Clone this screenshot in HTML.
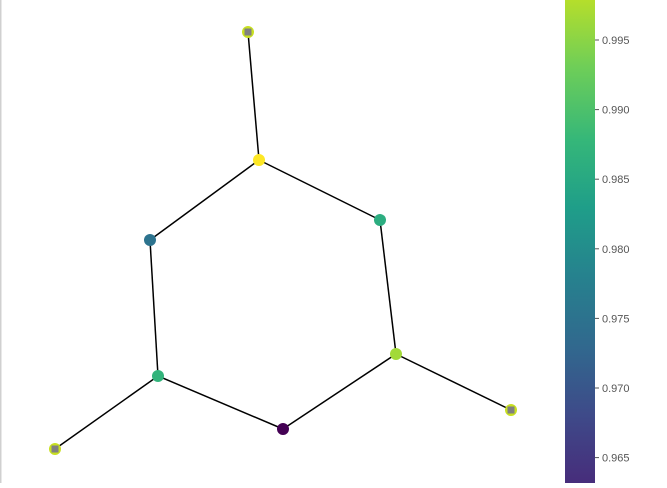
<!DOCTYPE html>
<html><head><meta charset="utf-8"><style>
body{margin:0;background:#fff;width:667px;height:483px;overflow:hidden;font-family:"Liberation Sans","DejaVu Sans",sans-serif}
</style></head><body>
<svg id="c" width="667" height="483" xmlns="http://www.w3.org/2000/svg">
<defs><linearGradient id="vg" x1="0" y1="1" x2="0" y2="0">
<stop offset="0" stop-color="#472d7b"/><stop offset="0.14" stop-color="#3e4a89"/><stop offset="0.28" stop-color="#31688e"/><stop offset="0.43" stop-color="#26828e"/><stop offset="0.57" stop-color="#1f9e89"/><stop offset="0.71" stop-color="#35b779"/><stop offset="0.86" stop-color="#6ece58"/><stop offset="1" stop-color="#b5de2b"/>
</linearGradient></defs>
<rect x="0" y="0" width="1.5" height="483" fill="#d0d0d0"/>
<g id="edges"></g><g id="nodes"></g>
<rect x="565" y="0" width="30" height="483" fill="url(#vg)"/>
<g id="cbticks"></g>
</svg>
<script>
const nodeX=[259,380,150,158,283,396,248,55,511];
const nodeY=[160,220,240,376,429,354,32,449,410];
const nodeVal=[1.0,0.62,0.38,0.65,0.0,0.86,null,null,null];
const edgesFrom=[0,1,5,4,3,2,0,3,5];
const edgesTo=[1,5,4,3,2,0,6,7,8];
const tickVals=[0.995,0.990,0.985,0.980,0.975,0.970,0.965];
const tickLabels=["0.995","0.990","0.985","0.980","0.975","0.970","0.965"];
const NS="http://www.w3.org/2000/svg";
const vir=[[68,1,84],[72,40,120],[62,74,137],[49,104,142],[38,130,142],[31,158,137],[53,183,121],[109,205,89],[180,222,44],[253,231,37]];
function viridis(t){t=Math.max(0,Math.min(1,t));const p=t*(vir.length-1),i=Math.min(Math.floor(p),vir.length-2),f=p-i;
const c=vir[i].map((v,k)=>Math.round(v+(vir[i+1][k]-v)*f));return `rgb(${c})`;}
function cbY(v){return 40+(0.995-v)/0.005*69.6;}
const eg=document.getElementById('edges'),ng=document.getElementById('nodes'),tg=document.getElementById('cbticks');
edgesFrom.forEach((a,i)=>{const b=edgesTo[i];const l=document.createElementNS(NS,'line');
l.setAttribute('x1',nodeX[a]);l.setAttribute('y1',nodeY[a]);l.setAttribute('x2',nodeX[b]);l.setAttribute('y2',nodeY[b]);
l.setAttribute('stroke','#000');l.setAttribute('stroke-width','1.5');


eg.appendChild(l);});
nodeX.forEach((x,i)=>{const y=nodeY[i];
if(nodeVal[i]===null){const c=document.createElementNS(NS,'circle');c.setAttribute('cx',x);c.setAttribute('cy',y);c.setAttribute('r',6);c.setAttribute('fill','#c8e020');


ng.appendChild(c);
const s=document.createElementNS(NS,'rect');s.setAttribute('x',x-3.5);s.setAttribute('y',y-3.5);s.setAttribute('width',7);s.setAttribute('height',7);s.setAttribute('fill','#808080');


ng.appendChild(s);}
else{const c=document.createElementNS(NS,'circle');c.setAttribute('cx',x);c.setAttribute('cy',y);c.setAttribute('r',6);c.setAttribute('fill',viridis(nodeVal[i]));


ng.appendChild(c);}});
tickVals.forEach((v,i)=>{const y=cbY(v);const l=document.createElementNS(NS,'line');
l.setAttribute('x1',595);l.setAttribute('x2',599);l.setAttribute('y1',y);l.setAttribute('y2',y);l.setAttribute('stroke','#555');


tg.appendChild(l);
const t=document.createElementNS(NS,'text');t.setAttribute('x',602);t.setAttribute('y',y+4);t.setAttribute('font-size','11');t.setAttribute('fill','#555');t.textContent=tickLabels[i];


tg.appendChild(t);});
</script>
</body></html>
